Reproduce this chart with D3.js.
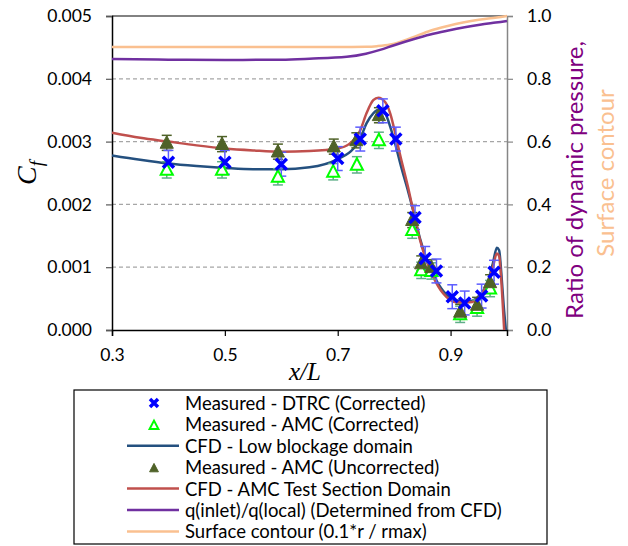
<!DOCTYPE html>
<html>
<head>
<meta charset="utf-8">
<script src="https://cdn.jsdelivr.net/npm/d3@7"></script>
<style>
  body { margin: 0; background: #fff; }
  text { font-family: Lato, "Open Sans", sans-serif; }
</style>
</head>
<body>
<div id="chart"></div>
<script>
// tick values
const xTicks = [0.3, 0.5, 0.7, 0.9]
const yTicks = [0, 0.001, 0.002, 0.003, 0.004, 0.005]
const y2Ticks = [0, 0.2, 0.4, 0.6, 0.8, 1.0]

// measured - DTRC (corrected)
const dtrcX  = [0.40, 0.50, 0.60, 0.70, 0.74, 0.78, 0.803, 0.837, 0.855, 0.875, 0.903, 0.925, 0.955, 0.977]
const dtrcCf = [0.00267, 0.00267, 0.00264, 0.00273, 0.00304, 0.00349, 0.00304, 0.00179, 0.00114, 0.00094, 0.00053, 0.00043, 0.00054, 0.00092]
const dtrcErr = 0.00019

// measured - AMC (corrected)
const amcX  = [0.397, 0.495, 0.594, 0.692, 0.734, 0.773, 0.832, 0.848, 0.866, 0.917, 0.947, 0.970]
const amcCf = [0.00255, 0.00255, 0.00244, 0.00252, 0.00263, 0.00302, 0.00159, 0.00095, 0.00094, 0.00025, 0.00035, 0.00066]
const amcErr = 0.00013

// measured - AMC (uncorrected)
const amcUX  = [0.397, 0.495, 0.594, 0.693, 0.733, 0.773, 0.832, 0.848, 0.866, 0.917, 0.947, 0.970]
const amcUCf = [0.00298, 0.00296, 0.00284, 0.00292, 0.00302, 0.00342, 0.00175, 0.00106, 0.00100, 0.00029, 0.00040, 0.00076]
const amcUErr = 0.00012

// CFD - low blockage domain
const lowX  = [0.30, 0.35, 0.40, 0.45, 0.50, 0.55, 0.60, 0.65, 0.70, 0.728, 0.740, 0.751, 0.763, 0.774, 0.784, 0.793, 0.802, 0.813, 0.825, 0.835, 0.846, 0.858, 0.869, 0.887, 0.911, 0.934, 0.952, 0.965, 0.975, 0.982, 0.986, 0.990, 0.994, 0.998]
const lowCf = [0.00278, 0.00271, 0.00265, 0.00261, 0.00258, 0.00256, 0.00256, 0.00259, 0.00272, 0.00289, 0.00305, 0.00329, 0.00345, 0.00351, 0.00345, 0.00324, 0.00296, 0.00258, 0.00220, 0.00186, 0.00145, 0.00112, 0.00089, 0.00062, 0.00047, 0.00046, 0.00056, 0.00074, 0.00106, 0.00131, 0.00127, 0.00090, 0.00040, 0.0]

// CFD - AMC test section domain
const amcCfdX  = [0.30, 0.35, 0.40, 0.45, 0.50, 0.55, 0.60, 0.65, 0.70, 0.72, 0.74, 0.751, 0.763, 0.772, 0.784, 0.793, 0.802, 0.810, 0.825, 0.835, 0.846, 0.858, 0.869, 0.887, 0.911, 0.934, 0.952, 0.965, 0.975, 0.982, 0.986, 0.989, 0.992, 0.995]
const amcCfdCf = [0.00314, 0.00306, 0.00300, 0.00294, 0.00289, 0.00286, 0.00284, 0.00285, 0.00289, 0.00296, 0.00318, 0.00345, 0.00366, 0.00370, 0.00363, 0.00345, 0.00313, 0.00281, 0.00226, 0.00185, 0.00143, 0.00108, 0.00085, 0.00058, 0.00044, 0.00044, 0.00054, 0.00072, 0.00100, 0.00122, 0.00118, 0.00090, 0.00048, 0.0]

// q(inlet)/q(local), right axis
const qX = [0.30, 0.40, 0.50, 0.60, 0.65, 0.716, 0.75, 0.775, 0.80, 0.834, 0.864, 0.894, 0.925, 0.952, 0.98, 1.0]
const qRatio = [0.863, 0.861, 0.860, 0.861, 0.864, 0.870, 0.880, 0.892, 0.907, 0.926, 0.941, 0.953, 0.964, 0.972, 0.979, 0.984]

// surface contour (0.1*r / rmax), right axis
const surfX = [0.30, 0.40, 0.50, 0.60, 0.70, 0.75, 0.77, 0.793, 0.83, 0.864, 0.895, 0.922, 0.95, 0.982, 1.0]
const surfY = [0.901, 0.901, 0.901, 0.901, 0.901, 0.902, 0.904, 0.909, 0.930, 0.953, 0.968, 0.979, 0.988, 0.995, 1.0]

const legendNames = [
  "Measured - DTRC (Corrected)",
  "Measured - AMC (Corrected)",
  "CFD - Low blockage domain",
  "Measured - AMC (Uncorrected)",
  "CFD - AMC Test Section Domain",
  "q(inlet)/q(local) (Determined from CFD)",
  "Surface contour (0.1*r / rmax)"
]

const c = {
  dtrc: "#0000ff", dtrcBar: "#5c5cff",
  amc: "#00ff00", amcBar: "#5fae88",
  amcU: "#4f6228",
  low: "#24507f", red: "#c0504d",
  q: "#7030a0", surf: "#fac090"
}

// size and margins
let width = 628, height = 546
let margin = {left: 112, right: 121, top: 16, bottom: 216}

let svg = d3.select("#chart")
  .append("svg")
    .attr("width", width)
    .attr("height", height)

let x = d3.scaleLinear().domain([0.3, 1.0]).range([margin.left, width - margin.right])
let y = d3.scaleLinear().domain([0, 0.005]).range([height - margin.bottom, margin.top])
let y2 = d3.scaleLinear().domain([0, 1]).range([height - margin.bottom, margin.top])

// gridlines
svg.append("g")
  .selectAll("line")
  .data(yTicks.filter(d => d > 0 && d < 0.005))
  .join("line")
    .attr("x1", x(0.3)).attr("x2", x(1.0))
    .attr("y1", d => y(d)).attr("y2", d => y(d))
    .attr("stroke", "#a6a6a6")
    .attr("stroke-width", 1.2)
    .attr("stroke-dasharray", "4,3")

// top border of the plot
svg.append("line")
  .attr("x1", x(0.3)).attr("x2", x(1.0))
  .attr("y1", y(0.005)).attr("y2", y(0.005))
  .attr("stroke", "#595959").attr("stroke-width", 1.5)

// axes
let leftAxis = svg.append("g")
  .attr("transform", `translate(${margin.left},0)`)
  .call(d3.axisLeft(y).tickValues(yTicks).tickFormat(d3.format(".3f")).tickSizeOuter(0).tickSize(6).tickPadding(14))
leftAxis.select(".domain").attr("stroke", "#000").attr("stroke-width", 1.5)
leftAxis.selectAll(".tick line").attr("stroke", "#595959").attr("stroke-width", 1.2)

let rightAxis = svg.append("g")
  .attr("transform", `translate(${width - margin.right},0)`)
  .call(d3.axisRight(y2).tickValues(y2Ticks).tickFormat(d3.format(".1f")).tickSizeOuter(0).tickSize(6).tickPadding(14))
rightAxis.select(".domain").attr("stroke", "#868686").attr("stroke-width", 1.5)
rightAxis.selectAll(".tick line").attr("stroke", "#868686").attr("stroke-width", 1.2)

let bottomAxis = svg.append("g")
  .attr("transform", `translate(0,${height - margin.bottom})`)
  .call(d3.axisBottom(x).tickValues(xTicks).tickFormat(d3.format(".1f")).tickSizeOuter(0).tickSize(6).tickPadding(13))
bottomAxis.select(".domain").attr("stroke", "#000").attr("stroke-width", 1.5)
bottomAxis.selectAll(".tick line").attr("stroke", "#000").attr("stroke-width", 1.2)

svg.selectAll(".tick text")
  .style("font-size", "17.5px")
  .style("font-family", "Lato, sans-serif")
  .attr("fill", "#000")

// axis titles
svg.append("text")
  .attr("transform", `translate(36,${(margin.top + height - margin.bottom) / 2}) rotate(-90)`)
  .attr("text-anchor", "middle")
  .style("font-family", "'Liberation Serif', serif")
  .style("font-style", "italic")
  .style("font-size", "28px")
  .call(t => {
    t.append("tspan").text("C")
    t.append("tspan").attr("dy", 7).style("font-size", "19px").text("f")
  })

svg.append("text")
  .attr("x", 305).attr("y", 380)
  .attr("text-anchor", "middle")
  .style("font-family", "'Liberation Serif', serif")
  .style("font-style", "italic")
  .style("font-size", "25px")
  .text("x/L")

svg.append("text")
  .attr("transform", `translate(573,180) rotate(-90)`)
  .attr("text-anchor", "middle")
  .attr("dominant-baseline", "central")
  .style("font-size", "24px")
  .attr("fill", "#800080")
  .text("Ratio of dynamic pressure,")

svg.append("text")
  .attr("transform", `translate(604,173) rotate(-90)`)
  .attr("text-anchor", "middle")
  .attr("dominant-baseline", "central")
  .style("font-size", "24px")
  .attr("fill", c.surf)
  .text("Surface contour")

// lines
let zip = (xs, ys) => xs.map((d, i) => [d, ys[i]])
let lineCf = d3.line().x(d => x(d[0])).y(d => y(d[1])).curve(d3.curveMonotoneX)
let lineR = d3.line().x(d => x(d[0])).y(d => y2(d[1])).curve(d3.curveMonotoneX)

svg.append("path").datum(zip(surfX, surfY))
  .attr("d", lineR).attr("fill", "none").attr("stroke", c.surf).attr("stroke-width", 2.5)
svg.append("path").datum(zip(qX, qRatio))
  .attr("d", lineR).attr("fill", "none").attr("stroke", c.q).attr("stroke-width", 2.5)
svg.append("path").datum(zip(lowX, lowCf))
  .attr("d", lineCf).attr("fill", "none").attr("stroke", c.low).attr("stroke-width", 2.5)
svg.append("path").datum(zip(amcCfdX, amcCfdCf))
  .attr("d", lineCf).attr("fill", "none").attr("stroke", c.red).attr("stroke-width", 2.5)

// error bars
function errorBars(xs, ys, err, colour) {
  let g = svg.append("g").attr("stroke", colour).attr("stroke-width", 1.5)
  let pts = zip(xs, ys)
  g.selectAll(".v").data(pts).join("line")
    .attr("x1", d => x(d[0])).attr("x2", d => x(d[0]))
    .attr("y1", d => y(d[1] - err)).attr("y2", d => y(d[1] + err))
  g.selectAll(".top").data(pts).join("line")
    .attr("x1", d => x(d[0]) - 5).attr("x2", d => x(d[0]) + 5)
    .attr("y1", d => y(d[1] + err)).attr("y2", d => y(d[1] + err))
  g.selectAll(".bot").data(pts).join("line")
    .attr("x1", d => x(d[0]) - 5).attr("x2", d => x(d[0]) + 5)
    .attr("y1", d => y(d[1] - err)).attr("y2", d => y(d[1] - err))
}
errorBars(amcX, amcCf, amcErr, c.amcBar)
errorBars(amcUX, amcUCf, amcUErr, c.amcU)
errorBars(dtrcX, dtrcCf, dtrcErr, c.dtrcBar)

// markers
let triPath = s => `M0,${-s * 0.6}L${s * 0.55},${s * 0.45}L${-s * 0.55},${s * 0.45}Z`
let crossPath = s => `M${-s},${-s}L${s},${s}M${-s},${s}L${s},${-s}`

function hollowTri(sel, s) {
  sel.attr("d", triPath(s)).attr("fill", "#fff").attr("stroke", c.amc).attr("stroke-width", 2)
}
function solidTri(sel, s) {
  sel.attr("d", triPath(s)).attr("fill", c.amcU).attr("stroke", c.amcU).attr("stroke-width", 1)
}
function cross(sel, s) {
  sel.attr("d", crossPath(s)).attr("fill", "none").attr("stroke", c.dtrc).attr("stroke-width", 3.5)
}

svg.append("g").selectAll("path").data(zip(amcX, amcCf)).join("path")
  .attr("transform", d => `translate(${x(d[0])},${y(d[1])})`).call(hollowTri, 11)
svg.append("g").selectAll("path").data(zip(amcUX, amcUCf)).join("path")
  .attr("transform", d => `translate(${x(d[0])},${y(d[1])})`).call(solidTri, 12)
svg.append("g").selectAll("path").data(zip(dtrcX, dtrcCf)).join("path")
  .attr("transform", d => `translate(${x(d[0])},${y(d[1])})`).call(cross, 5.5)

// legend
let legend = svg.append("g")
legend.append("rect")
  .attr("x", 74).attr("y", 390).attr("width", 473).attr("height", 154)
  .attr("fill", "#fff").attr("stroke", "#000").attr("stroke-width", 1.2)

let kinds = ["cross", "hollow", c.low, "solid", c.red, c.q, c.surf]
legendNames.forEach((name, i) => {
  let cy = 403 + i * 21.4
  let k = kinds[i]
  if (k === "cross") {
    legend.append("path").attr("transform", `translate(154,${cy})`).call(cross, 4)
  } else if (k === "hollow") {
    legend.append("path").attr("transform", `translate(154,${cy + 1})`).call(hollowTri, 8)
  } else if (k === "solid") {
    legend.append("path").attr("transform", `translate(154,${cy + 1})`).call(solidTri, 8)
  } else {
    legend.append("line")
      .attr("x1", 127).attr("x2", 179).attr("y1", cy).attr("y2", cy)
      .attr("stroke", k).attr("stroke-width", 2.5)
  }
  legend.append("text")
    .attr("x", 185).attr("y", cy)
    .attr("dominant-baseline", "central")
    .style("font-size", "18.5px")
    .text(name)
})
</script>
</body>
</html>
